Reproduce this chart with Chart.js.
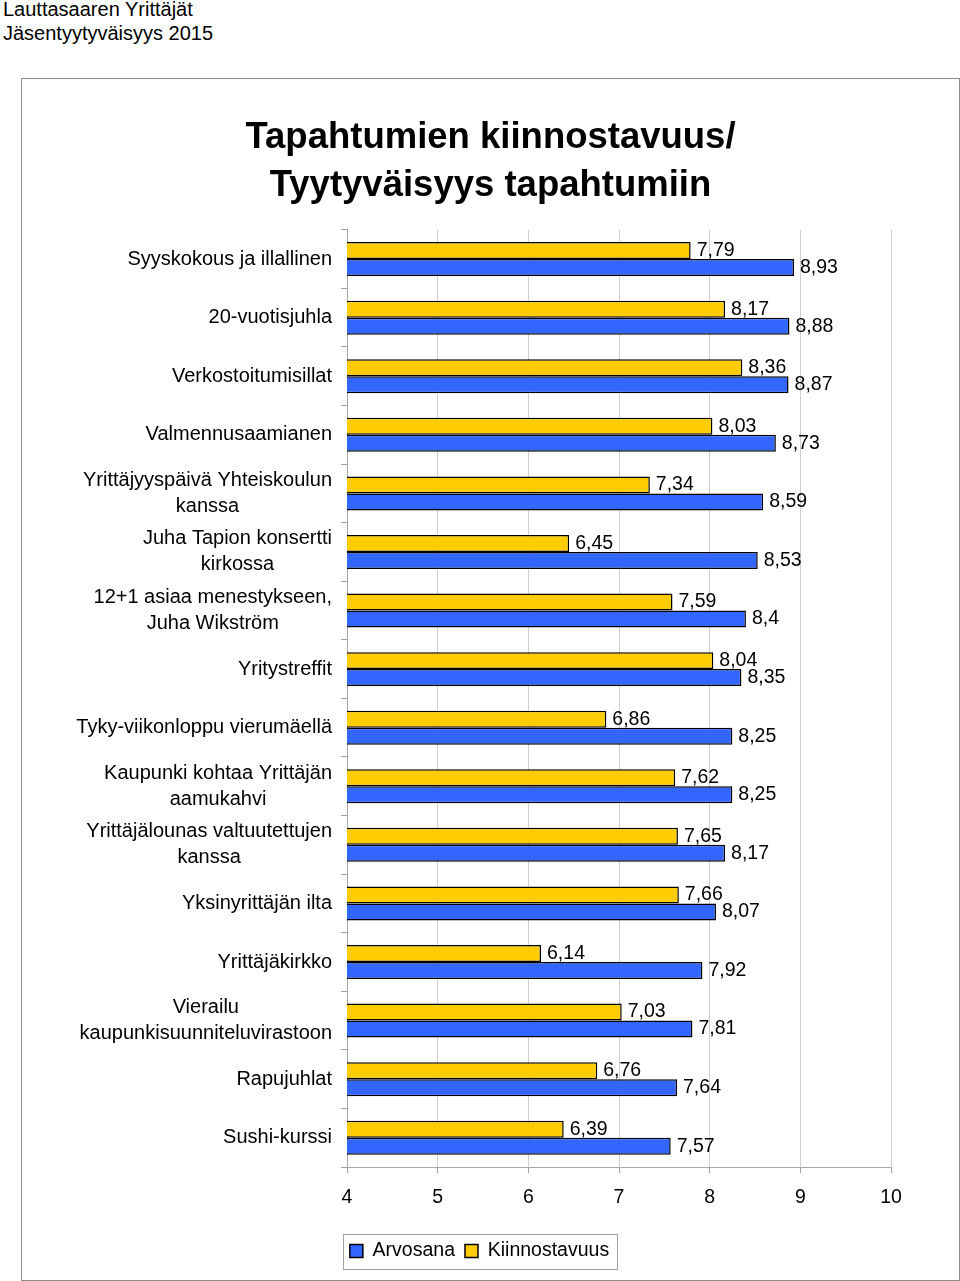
<!DOCTYPE html>
<html>
<head>
<meta charset="utf-8">
<script src="https://cdn.jsdelivr.net/npm/chart.js@4.4.0/dist/chart.umd.min.js"></script>
<style>
  body { margin: 0; background: #fff; font-family: "Liberation Sans", Arial, sans-serif; }
  #hdr { position: absolute; left: 3px; top: -3px; font-size: 20px; line-height: 24px; color: #000; }
  #frame { position: absolute; left: 21px; top: 78px; width: 937px; height: 1201px; border: 1px solid #8c8c8c; }
  canvas { display: block; }
</style>
</head>
<body>
<div id="hdr">Lauttasaaren Yrittäjät<br>Jäsentyytyväisyys 2015</div>
<div id="frame"><canvas id="chart" width="937" height="1201"></canvas></div>
<script>
// tapahtumat (rivitettynä kuten kuvassa)
const tapahtumat = [
  ["Syyskokous ja illallinen"],
  ["20-vuotisjuhla"],
  ["Verkostoitumisillat"],
  ["Valmennusaamianen"],
  ["Yrittäjyyspäivä Yhteiskoulun", "kanssa"],
  ["Juha Tapion konsertti", "kirkossa"],
  ["12+1 asiaa menestykseen,", "Juha Wikström"],
  ["Yritystreffit"],
  ["Tyky-viikonloppu vierumäellä"],
  ["Kaupunki kohtaa Yrittäjän", "aamukahvi"],
  ["Yrittäjälounas valtuutettujen", "kanssa"],
  ["Yksinyrittäjän ilta"],
  ["Yrittäjäkirkko"],
  ["Vierailu", "kaupunkisuunniteluvirastoon"],
  ["Rapujuhlat"],
  ["Sushi-kurssi"]
];
const kiinnostavuus = [7.79, 8.17, 8.36, 8.03, 7.34, 6.45, 7.59, 8.04, 6.86, 7.62, 7.65, 7.66, 6.14, 7.03, 6.76, 6.39];
const arvosana = [8.93, 8.88, 8.87, 8.73, 8.59, 8.53, 8.4, 8.35, 8.25, 8.25, 8.17, 8.07, 7.92, 7.81, 7.64, 7.57];
const asteikko = [4, 10];

const FONT = '"Liberation Sans", Arial, sans-serif';
Chart.defaults.font.family = FONT;
Chart.defaults.color = '#000';

const fmt = v => String(v).replace('.', ',');

// kategorioiden nimet: lohko oikealle, rivit keskitetty keskenään
const nimetPlugin = {
  id: 'nimet',
  afterDraw(chart) {
    const { ctx } = chart;
    const y = chart.scales.y;
    ctx.save();
    ctx.font = '20px ' + FONT;
    ctx.fillStyle = '#000';
    ctx.textAlign = 'center';
    ctx.textBaseline = 'middle';
    tapahtumat.forEach((rivit, i) => {
      const yc = y.getPixelForValue(i);
      const leveys = Math.max(...rivit.map(r => ctx.measureText(r).width));
      const cx = y.right - 15 - leveys / 2;
      rivit.forEach((r, k) => ctx.fillText(r, cx, yc + (k - (rivit.length - 1) / 2) * 26));
    });
    ctx.restore();
  }
};

// arvot palkkien perään
const arvoPlugin = {
  id: 'arvot',
  afterDatasetsDraw(chart) {
    const { ctx } = chart;
    ctx.save();
    ctx.font = '19.5px ' + FONT;
    ctx.fillStyle = '#000';
    ctx.textAlign = 'left';
    ctx.textBaseline = 'middle';
    chart.data.datasets.forEach((ds, di) => {
      chart.getDatasetMeta(di).data.forEach((bar, i) => {
        ctx.fillText(fmt(ds.data[i]), bar.x + 6, bar.y);
      });
    });
    ctx.restore();
  }
};

// selitteen siirto ja kehys
const selitePlugin = {
  id: 'selite',
  afterLayout(chart) {
    chart.legend.left -= 11;
    chart.legend.right -= 11;
  },
  afterDraw(chart) {
    const hb = chart.legend.legendHitBoxes;
    if (!hb || !hb.length) return;
    const { ctx } = chart;
    const last = hb[hb.length - 1];
    const x0 = hb[0].left - 7;
    const x1 = last.left + last.width + 8;
    const yc = hb[0].top + hb[0].height / 2;
    ctx.save();
    ctx.strokeStyle = '#a0a0a0';
    ctx.lineWidth = 1;
    ctx.strokeRect(Math.round(x0) + 0.5, Math.round(yc - 17.5) + 0.5, Math.round(x1 - x0), 35);
    ctx.restore();
  }
};

new Chart(document.getElementById('chart'), {
  type: 'bar',
  data: {
    labels: tapahtumat.map(r => r.join(' ')),
    datasets: [
      {
        label: 'Kiinnostavuus',
        data: kiinnostavuus,
        backgroundColor: '#FFCC00',
        borderColor: '#000',
        borderWidth: 1.5,
        borderSkipped: false,
        xAxisID: 'x',
        yAxisID: 'y'
      },
      {
        label: 'Arvosana',
        data: arvosana,
        backgroundColor: '#3366FF',
        borderColor: '#000',
        borderWidth: 1.5,
        borderSkipped: false,
        xAxisID: 'x',
        yAxisID: 'y'
      }
    ]
  },
  options: {
    indexAxis: 'y',
    responsive: false,
    animation: false,
    barPercentage: 1.0,
    categoryPercentage: 0.58,
    layout: { padding: { left: 0, right: 0, top: 0, bottom: 9.25 } },
    plugins: {
      title: {
        display: true,
        text: ['Tapahtumien kiinnostavuus/', 'Tyytyväisyys tapahtumiin'],
        font: { size: 36.5, weight: 'bold', lineHeight: 1.34 },
        color: '#000',
        padding: { top: 34, bottom: 19 }
      },
      legend: {
        position: 'bottom',
        reverse: true,
        labels: {
          boxWidth: 13,
          boxHeight: 13,
          padding: 10,
          color: '#000',
          font: { size: 19.5 }
        }
      },
      tooltip: { enabled: false }
    },
    scales: {
      x: {
        type: 'linear',
        position: 'bottom',
        min: asteikko[0],
        max: asteikko[1],
        ticks: { stepSize: 1, padding: 13, color: '#000', font: { size: 19.5 } },
        grid: { color: '#cfcfcf', tickColor: '#a0a0a0', tickLength: 6 },
        border: { color: '#a8a8a8' },
        afterFit(s) { s.height = 64.25; }
      },
      y: {
        type: 'category',
        position: 'left',
        ticks: { display: false },
        grid: { offset: true, drawOnChartArea: false, drawTicks: true, tickLength: 6, tickColor: '#a0a0a0' },
        border: { color: '#a8a8a8' },
        afterFit(s) { s.width = 325; }
      },
      y2: {
        type: 'category',
        position: 'right',
        ticks: { display: false },
        grid: { display: false },
        border: { display: false },
        afterFit(s) { s.width = 68; }
      }
    }
  },
  plugins: [nimetPlugin, arvoPlugin, selitePlugin]
});
</script>
</body>
</html>
